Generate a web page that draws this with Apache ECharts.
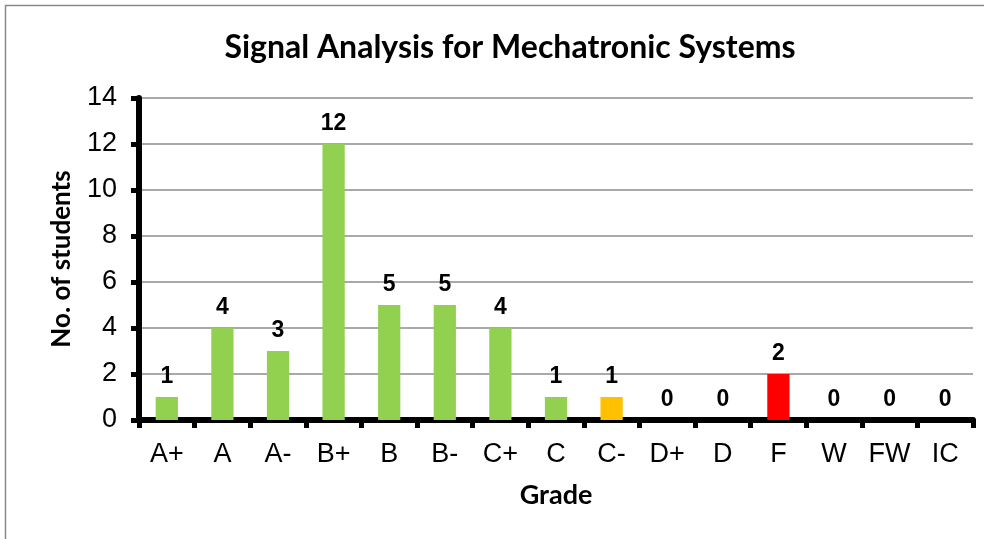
<!DOCTYPE html>
<html>
<head>
<meta charset="utf-8">
<script src="https://cdn.jsdelivr.net/npm/echarts@6/dist/echarts.min.js"></script>
<style>
  html, body { margin: 0; padding: 0; background: #fff; }
  #main { width: 984px; height: 539px; }
</style>
</head>
<body>
<div id="main"></div>
<script>
const grades = ["A+", "A", "A-", "B+", "B", "B-", "C+", "C", "C-", "D+", "D", "F", "W", "FW", "IC"];
const students = [1, 4, 3, 12, 5, 5, 4, 1, 1, 0, 0, 2, 0, 0, 0];
const barColors = ["#92D050", "#92D050", "#92D050", "#92D050", "#92D050", "#92D050", "#92D050", "#92D050",
  "#FFC000", "#92D050", "#92D050", "#FF0000", "#92D050", "#92D050", "#92D050"];

let option = {
  animation: false,
  backgroundColor: "#fff",
  graphic: [
    {
      type: "rect",
      shape: { x: 5.5, y: 5.5, width: 1000, height: 600 },
      style: { fill: "none", stroke: "#888", lineWidth: 1.5 },
      silent: true,
    },
  ],
  title: {
    text: "Signal Analysis for Mechatronic Systems",
    left: 505,
    textAlign: "center",
    top: 27,
    textStyle: { fontFamily: "Lato", fontWeight: "bold", fontSize: 32, color: "#000" },
  },
  grid: { left: 139, right: 11, top: 98, bottom: 119, containLabel: false },
  xAxis: {
    type: "category",
    data: grades,
    name: "Grade",
    nameLocation: "middle",
    nameGap: 62,
    nameTextStyle: { fontFamily: "Lato", fontWeight: "bold", fontSize: 27, color: "#000" },
    axisLine: { lineStyle: { color: "#000", width: 6 } },
    axisTick: { show: true, length: 8, lineStyle: { color: "#000", width: 5 } },
    axisLabel: { fontFamily: "Liberation Sans", fontSize: 27, color: "#000", margin: 21 },
  },
  yAxis: {
    type: "value",
    min: 0,
    max: 14,
    interval: 2,
    name: "No. of students",
    nameLocation: "middle",
    nameGap: 64,
    nameTextStyle: { fontFamily: "Lato", fontWeight: "bold", fontSize: 26, color: "#000" },
    axisLine: { show: true, lineStyle: { color: "#000", width: 6 } },
    axisTick: { show: true, length: 8, lineStyle: { color: "#000", width: 5 } },
    axisLabel: { fontFamily: "Liberation Sans", fontSize: 27, color: "#000", margin: 22 },
    splitLine: { lineStyle: { color: "#8c8c8c", width: 1.5 } },
  },
  series: [
    {
      type: "bar",
      barWidth: "40%",
      data: students.map((v, i) => ({ value: v, itemStyle: { color: barColors[i] } })),
      label: {
        show: true,
        position: "top",
        distance: 9,
        fontFamily: "Liberation Sans",
        fontWeight: "bold",
        fontSize: 23,
        color: "#000",
      },
    },
  ],
};

var myChart = echarts.init(document.getElementById("main"));
myChart.setOption(option);
</script>
</body>
</html>
